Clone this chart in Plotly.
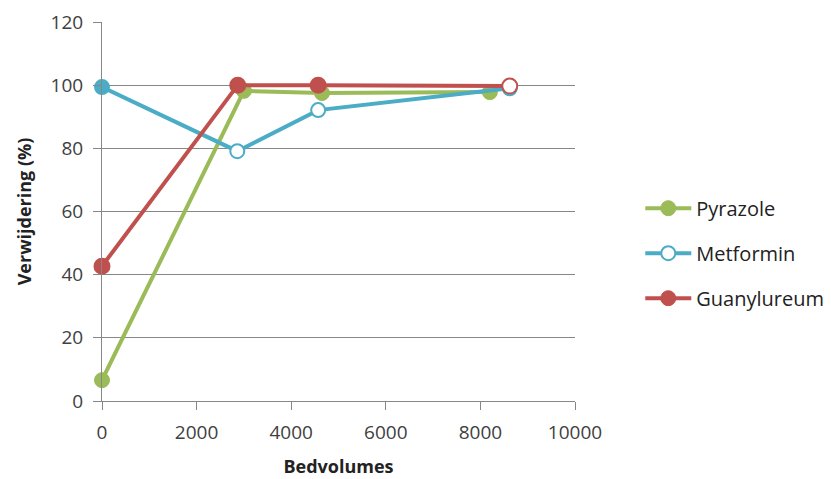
import plotly.graph_objects as go

# Bed volumes and removal percentages per compound
pyrazole_bv = [0, 3000, 4650, 8200]
pyrazole_pct = [6.6, 98.2, 97.5, 97.8]

metformin_bv = [0, 2860, 4570, 8620]
metformin_pct = [99.4, 79.1, 92.1, 99.0]

guanyl_bv = [0, 2870, 4570, 8620]
guanyl_pct = [42.7, 100.0, 100.0, 99.7]

x_ticks = [0, 2000, 4000, 6000, 8000, 10000]
x_labels = [str(v) for v in x_ticks]
y_ticks = [0, 20, 40, 60, 80, 100, 120]

GREEN = "#9BBB59"
BLUE = "#4BACC6"
RED = "#C0504D"
AXIS = "#878787"
FONT = "Open Sans, Liberation Sans, sans-serif"

fig = go.Figure()

fig.add_trace(go.Scatter(
    x=pyrazole_bv, y=pyrazole_pct, name="Pyrazole", mode="lines+markers",
    line=dict(color=GREEN, width=4),
    marker=dict(size=15, color=GREEN, line=dict(color=GREEN, width=1)),
    cliponaxis=False, legendgroup="a",
))
fig.add_trace(go.Scatter(
    x=metformin_bv, y=metformin_pct, name="Metformin", mode="lines+markers",
    line=dict(color=BLUE, width=4),
    marker=dict(size=14, color=[BLUE, "white", "white", "white"],
                line=dict(color=BLUE, width=2)),
    cliponaxis=False, legendgroup="b", showlegend=False,
))
fig.add_trace(go.Scatter(
    x=guanyl_bv, y=guanyl_pct, name="Guanylureum", mode="lines+markers",
    line=dict(color=RED, width=4),
    marker=dict(size=15, color=[RED, RED, RED, "white"],
                line=dict(color=RED, width=2)),
    cliponaxis=False, legendgroup="c", showlegend=False,
))

# legend entries (Metformin shown with an open marker, Guanylureum filled)
fig.add_trace(go.Scatter(
    x=[None], y=[None], name="Metformin", mode="lines+markers",
    line=dict(color=BLUE, width=4),
    marker=dict(size=14, color="white", line=dict(color=BLUE, width=2)),
    legendgroup="b",
))
fig.add_trace(go.Scatter(
    x=[None], y=[None], name="Guanylureum", mode="lines+markers",
    line=dict(color=RED, width=4),
    marker=dict(size=15, color=RED, line=dict(color=RED, width=1)),
    legendgroup="c",
))

fig.update_layout(
    width=831, height=479,
    margin=dict(l=102, r=256, t=22, b=78, autoexpand=False),
    plot_bgcolor="white", paper_bgcolor="white",
    font=dict(family=FONT, size=19, color="#404040"),
    showlegend=True,
    legend=dict(
        x=1.138, y=0.39, xanchor="left", yanchor="middle",
        traceorder="grouped", tracegroupgap=16,
        font=dict(size=20, color="#222222"), itemwidth=46,
        bgcolor="rgba(0,0,0,0)",
    ),
    xaxis=dict(
        range=[0, 10000], tickvals=x_ticks, ticktext=x_labels,
        ticks="outside", ticklen=8, ticklabelstandoff=6,
        tickcolor=AXIS, showline=True, linecolor=AXIS, linewidth=1,
        showgrid=False, zeroline=False,
        title=dict(text="<b>Bedvolumes</b>", font=dict(size=18, color="#222222"), standoff=16),
    ),
    yaxis=dict(
        range=[0, 120], tickvals=y_ticks, ticks="outside", ticklen=8,
        ticklabelstandoff=6,
        tickcolor=AXIS, showline=True, linecolor=AXIS, linewidth=1,
        showgrid=True, gridcolor=AXIS, gridwidth=1, zeroline=False,
        title=dict(text="<b>Verwijdering (%)</b>", font=dict(size=18, color="#222222"), standoff=14),
    ),
)

fig.write_html("out.html")
